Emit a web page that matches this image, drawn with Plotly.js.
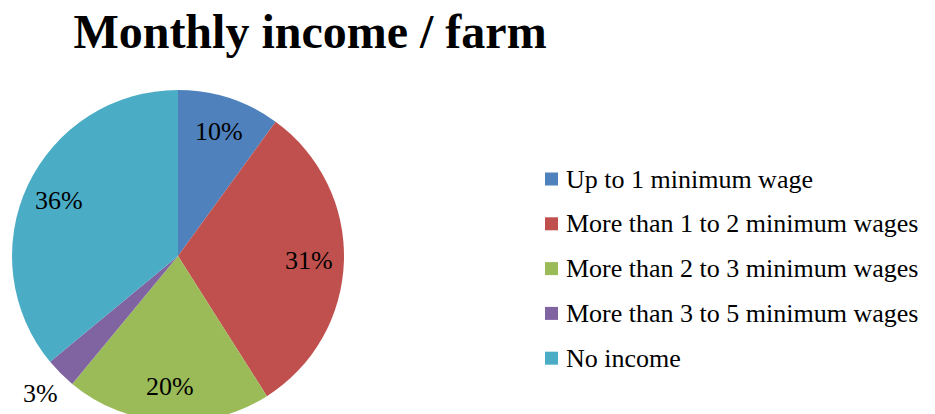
<!DOCTYPE html>
<html>
<head>
<meta charset="utf-8">
<script src="https://cdn.plot.ly/plotly-3.0.1.min.js"></script>
<style>
html,body{margin:0;padding:0;overflow:hidden;background:#fff;}
#chart{width:935px;height:422px;}
</style>
</head>
<body>
<div id="chart"></div>
<script>
const categories = [
  "Up to 1 minimum wage",
  "More than 1 to 2 minimum wages",
  "More than 2 to 3 minimum wages",
  "More than 3 to 5 minimum wages",
  "No income"
];
const shares = [10, 31, 20, 3, 36];
const labelInside = [true, true, true, false, true];
const colors = ["#4F81BD", "#C0504D", "#9BBB59", "#8064A2", "#4BACC6"];
const chartTitle = "Monthly income / farm";

const W = 935, H = 422;
const SERIF = "Liberation Serif";

// pie geometry (pixels)
const cx = 178, cy = 256, R = 166;
// legend layout (pixels)
const legX = 545, legY0 = 179, legGap = 44.8, sq = 13, textX = 564;

const total = shares.reduce((a, b) => a + b, 0);
let cum = 0;
const pctAnnotations = shares.map((v, i) => {
  const mid = (cum + v / 2) / total * 2 * Math.PI;
  cum += v;
  const r = labelInside[i] ? 0.79 * R : 1.17 * R;
  const px = cx + r * Math.sin(mid), py = cy - r * Math.cos(mid);
  return {
    text: Math.round(v / total * 100) + "%",
    xref: "paper", yref: "paper", x: px / W, y: 1 - py / H,
    xanchor: "center", yanchor: "middle", showarrow: false,
    font: {family: SERIF, size: 26, color: "#000"}
  };
});

const legendAnnotations = categories.map((c, i) => ({
  text: c, xref: "paper", yref: "paper",
  x: textX / W, y: 1 - (legY0 + i * legGap) / H,
  xanchor: "left", yanchor: "middle", showarrow: false,
  font: {family: SERIF, size: 26, color: "#000"}
}));
const shapes = categories.map((c, i) => ({
  type: "rect", xref: "paper", yref: "paper",
  x0: legX / W, x1: (legX + sq) / W,
  y0: 1 - (legY0 + i * legGap - sq / 2) / H,
  y1: 1 - (legY0 + i * legGap + sq / 2) / H,
  fillcolor: colors[i], line: {width: 0}
}));

const trace = {
  type: "pie",
  labels: categories,
  values: shares,
  sort: false,
  direction: "clockwise",
  rotation: 0,
  marker: {colors: colors, line: {width: 0}},
  textinfo: "none",
  hoverinfo: "label+percent",
  domain: {x: [(cx - R) / W, (cx + R) / W], y: [1 - (cy + R) / H, 1 - (cy - R) / H]},
  showlegend: false
};

const layout = {
  width: W, height: H,
  margin: {l: 0, r: 0, t: 0, b: 0},
  paper_bgcolor: "#fff",
  font: {family: SERIF, color: "#000"},
  showlegend: false,
  title: {
    text: "<b>" + chartTitle + "</b>",
    font: {family: SERIF, size: 48, color: "#000"},
    x: 310 / W, xanchor: "center", xref: "paper",
    y: 1 - 31 / H, yanchor: "middle", yref: "container"
  },
  annotations: pctAnnotations.concat(legendAnnotations),
  shapes: shapes
};

Plotly.newPlot("chart", [trace], layout, {displayModeBar: false, staticPlot: true});
</script>
</body>
</html>
